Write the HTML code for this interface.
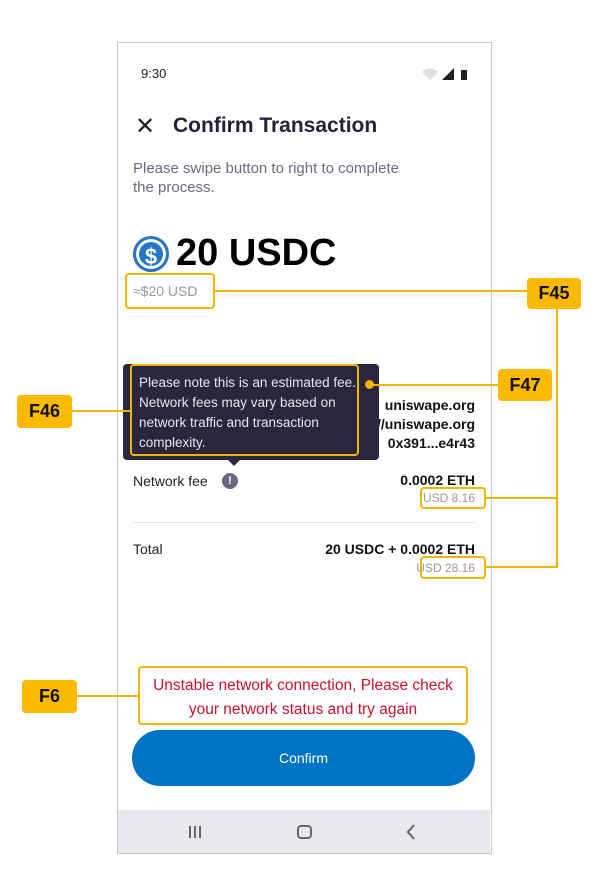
<!DOCTYPE html><html><head><style>
body{margin:0;width:608px;height:896px;background:#fff;position:relative;font-family:"Liberation Sans",sans-serif;overflow:hidden}
.a{position:absolute}
.hl{position:absolute;border:2px solid #f5b400;border-radius:4px;box-sizing:border-box}
.lab{position:absolute;background:#fbb900;border-radius:4px;font-weight:bold;font-size:18px;color:#111;display:flex;align-items:center;justify-content:center}
.ln{position:absolute;background:#f5b400}
</style></head><body>
<div class="a" style="left:117px;top:42px;width:373px;height:810px;border:1px solid #c8c8c8;background:#fff"></div>
<div class="a" style="left:141px;top:66px;font-size:13px;color:#222">9:30</div>
<svg class="a" style="left:422px;top:67px" width="48" height="14"><path d="M0 5 Q8 -2 16 5 L8 13Z" fill="#e0e0e0"/><path d="M20 13 L32 1 L32 13Z" fill="#222"/><rect x="39" y="3" width="6" height="10" fill="#222"/></svg>
<div class="a" style="left:135px;top:112px;font-size:24px;color:#222">✕</div>
<div class="a" style="left:173px;top:114px;font-size:21px;font-weight:bold;color:#22223a">Confirm Transaction</div>
<div class="a" style="left:133px;top:159px;font-size:15px;color:#6b6b80;line-height:19px;width:330px">Please swipe button to right to complete<br>the process.</div>
<div class="a" style="left:133px;top:236px;width:36px;height:36px;border-radius:50%;background:#2775ca;color:#fff;font-weight:bold;font-size:22px;text-align:center;line-height:36px;box-sizing:border-box;border:3px solid #2775ca;box-shadow:inset 0 0 0 3px #fff">$</div>
<div class="a" style="left:176px;top:232px;font-size:38px;font-weight:bold;color:#000">20 USDC</div>
<div class="a" style="left:133px;top:283px;font-size:14px;color:#999">≈$20 USD</div>
<div class="hl" style="left:125px;top:273px;width:90px;height:36px"></div>
<div class="a" style="left:280px;top:396px;width:195px;text-align:right;font-size:14px;font-weight:bold;line-height:19px;color:#111">uniswape.org<br>https://uniswape.org<br>0x391...e4r43</div>
<div class="a" style="left:123px;top:364px;width:256px;height:96px;background:#29263d;border-radius:4px"></div>
<div class="a" style="left:227px;top:459px;width:0;height:0;border-left:7px solid transparent;border-right:7px solid transparent;border-top:7px solid #29263d"></div>
<div class="a" style="left:139px;top:373px;font-size:13.5px;line-height:20px;color:#e6e6ee;width:222px">Please note this is an estimated fee. Network fees may vary based on network traffic and transaction complexity.</div>
<div class="hl" style="left:130px;top:364px;width:229px;height:92px"></div>
<div class="a" style="left:365px;top:380px;width:9px;height:9px;border-radius:50%;background:#f5b400"></div>
<div class="a" style="left:133px;top:473px;font-size:14px;color:#222">Network fee</div>
<div class="a" style="left:222px;top:473px;width:16px;height:16px;border-radius:50%;background:#6b6880;color:#fff;font-size:11px;font-weight:bold;text-align:center;line-height:16px">!</div>
<div class="a" style="left:300px;top:472px;width:175px;text-align:right;font-size:14px;font-weight:bold;color:#111">0.0002 ETH</div>
<div class="a" style="left:400px;top:491px;width:75px;text-align:right;font-size:12px;color:#999">USD 8.16</div>
<div class="hl" style="left:420px;top:487px;width:66px;height:22px"></div>
<div class="a" style="left:133px;top:522px;width:342px;height:1px;background:#e6e6e6"></div>
<div class="a" style="left:133px;top:541px;font-size:14px;color:#222">Total</div>
<div class="a" style="left:260px;top:541px;width:215px;text-align:right;font-size:14px;font-weight:bold;color:#111">20 USDC + 0.0002 ETH</div>
<div class="a" style="left:400px;top:561px;width:75px;text-align:right;font-size:12px;color:#999">USD 28.16</div>
<div class="hl" style="left:420px;top:556px;width:66px;height:23px"></div>
<div class="a" style="left:143px;top:674px;width:320px;text-align:center;font-size:15.5px;line-height:24px;color:#c8102e">Unstable network connection, Please check your network status and try again</div>
<div class="hl" style="left:138px;top:666px;width:330px;height:59px"></div>
<div class="a" style="left:132px;top:730px;width:343px;height:56px;border-radius:28px;background:#0074c4;color:#fff;font-size:14px;text-align:center;line-height:56px">Confirm</div>
<div class="a" style="left:118px;top:810px;width:372px;height:43px;background:#e8e9ed"></div>
<svg class="a" style="left:180px;top:820px" width="260" height="24"><g stroke="#666" stroke-width="2" fill="none"><path d="M10 6v12M15 6v12M20 6v12"/><rect x="118" y="6" width="13" height="12" rx="3"/><path d="M234 5l-6 7 6 7"/></g></svg>
<div class="ln" style="left:215px;top:290px;width:312px;height:2px"></div>
<div class="lab" style="left:527px;top:278px;width:54px;height:31px">F45</div>
<div class="ln" style="left:556px;top:309px;width:2px;height:259px"></div>
<div class="ln" style="left:486px;top:497px;width:71px;height:2px"></div>
<div class="ln" style="left:486px;top:566px;width:71px;height:2px"></div>
<div class="ln" style="left:370px;top:384px;width:128px;height:2px"></div>
<div class="lab" style="left:498px;top:369px;width:54px;height:32px">F47</div>
<div class="ln" style="left:72px;top:410px;width:58px;height:2px"></div>
<div class="lab" style="left:17px;top:395px;width:55px;height:33px">F46</div>
<div class="ln" style="left:77px;top:695px;width:61px;height:2px"></div>
<div class="lab" style="left:22px;top:680px;width:55px;height:33px">F6</div>
</body></html>
